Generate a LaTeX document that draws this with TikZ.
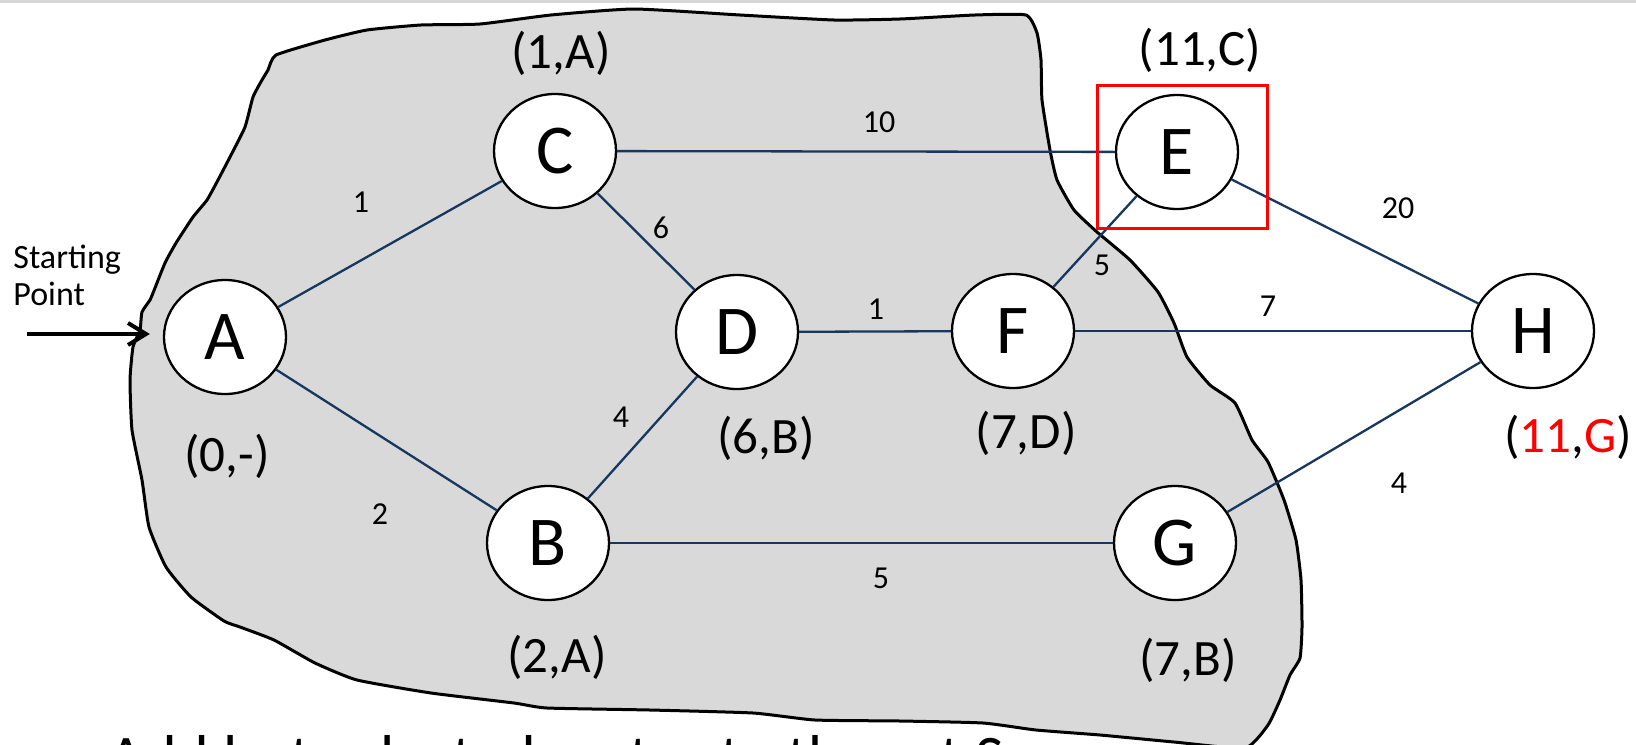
\documentclass[tikz,border=0pt]{standalone}
\usepackage{fontspec}
\setmainfont{Carlito}
\usetikzlibrary{shapes.geometric,arrows.meta}
\definecolor{navy}{RGB}{23,55,94}
\definecolor{blobgray}{RGB}{217,217,217}
\definecolor{topgray}{RGB}{214,214,214}
\tikzset{
  vtx/.style={ellipse, draw=black, line width=1.15pt, fill=white, minimum width=61pt, minimum height=57pt, inner sep=0pt, font=\fontsize{35}{35}\selectfont},
  link/.style={draw=navy, line width=1.15pt},
  wlab/.style={font=\fontsize{16}{16}\selectfont, inner sep=0pt},
  dlab/.style={font=\fontsize{25.5}{25.5}\selectfont, inner sep=0pt},
  slab/.style={font=\fontsize{17}{17}\selectfont, inner sep=0pt, anchor=base west},
}
\begin{document}
\begin{tikzpicture}[x=0.5pt,y=-0.5pt]
\useasboundingbox (0,0) rectangle (1636,744);
\clip (0,0) rectangle (1636,744);
\fill[white] (0,0) rectangle (1636,744);
\fill[topgray] (0,0) rectangle (1636,3);
% the set S
\draw[line width=1.5pt, fill=blobgray, line join=round]
  plot[smooth cycle, tension=0.3] coordinates {
  (276,55) (325,40) (367,30) (421,25) (480,24) (551,15) (634,9) (740,15) (834,20) (900,19) (975,15) (1026,15) (1037,33) (1041,60) (1042,100) (1050,150) (1057,180) (1074,210) (1097,232) (1130,260) (1158,292) (1174,323) (1187,357) (1210,385) (1235,403) (1252,440) (1268,462) (1284,500) (1296,540) (1301,580) (1302,627) (1300,658) (1290,675) (1280,700) (1268,725) (1245,748) (1174,742) (1100,735) (1036,730) (983,723) (900,721) (815,720) (753,713) (650,710) (547,708) (514,703) (431,693) (357,680) (315,663) (274,640) (240,627) (224,621) (191,597) (166,567) (149,527) (142,480) (132,430) (130,380) (133,347) (140,330) (142,312) (150,300) (153,293) (165,263) (176,243) (193,217) (207,200) (218,180) (230,157) (245,127) (253,97) (262,80) (268,70)};
% vertices
\node[vtx] (A) at (225,337) {A};
\node[vtx] (C) at (555,151) {C};
\node[vtx] (D) at (737,332) {D};
\node[vtx] (F) at (1013,331) {F};
\node[vtx] (E) at (1177,152) {E};
\node[vtx] (H) at (1533,331) {H};
\node[vtx] (B) at (548,543) {B};
\node[vtx] (G) at (1175,543) {G};
% edges
\draw[link] (A) -- (C);
\draw[link] (A) -- (B);
\draw[link] (C) -- (D);
\draw[link] (C) -- (E);
\draw[link] (B) -- (D);
\draw[link] (D) -- (F);
\draw[link] (F) -- (E);
\draw[link] (F) -- (H);
\draw[link] (E) -- (H);
\draw[link] (B) -- (G);
\draw[link] (G) -- (H);
% red highlight box
\node[draw=red, line width=1.5pt, minimum width=85pt, minimum height=71.5pt, inner sep=0pt] (box) at (1182,156.5) {};
% weights
\node[wlab] (wac) at (361,202) {1};
\node[wlab] (wcd) at (661,228) {6};
\node[wlab] (wce) at (879,122) {10};
\node[wlab] (weh) at (1398,208) {20};
\node[wlab] (wef) at (1102,265) {5};
\node[wlab] (wdf) at (876,309) {1};
\node[wlab] (wfh) at (1268,306) {7};
\node[wlab] (wbd) at (621,417) {4};
\node[wlab] (wab) at (380,514) {2};
\node[wlab] (wbg) at (881,578) {5};
\node[wlab] (wgh) at (1399,483) {4};
% distance labels
\node[dlab] (dC) at (561,53) {(1,A)};
\node[dlab] (dE) at (1200,50) {(11,C)};
\node[dlab] (dA) at (227,456) {(0,-)};
\node[dlab] (dD) at (766,438) {(6,B)};
\node[dlab] (dF) at (1026,433) {(7,D)};
\node[dlab] (dH) at (1568,437) {(\textcolor{red}{11},\textcolor{red}{G})};
\node[dlab] (dB) at (557,657) {(2,A)};
\node[dlab] (dG) at (1188,660) {(7,B)};
% starting point
\node[slab] (st1) at (13,268) {Starting};
\node[slab] (st2) at (13,305) {Point};
\coordinate (arrowstart) at (27,334);
\draw[line width=2pt, shorten >=6.5pt, -{Straight Barb[length=9pt,width=11pt,line width=2pt]}] (arrowstart) -- (A.west |- arrowstart);
% caption (cut off at the bottom, as in the reference)
\node[font=\fontsize{31}{31}\selectfont, inner sep=0pt, anchor=base west] (cap) at (108,778) {Add last selected vertex to the set S};
\end{tikzpicture}
\end{document}
